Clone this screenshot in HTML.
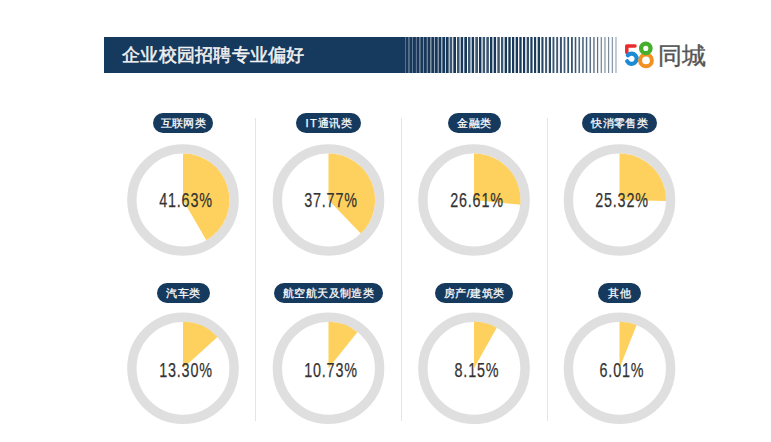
<!DOCTYPE html>
<html><head><meta charset="utf-8"><style>
html,body{margin:0;padding:0;background:#fff;width:771px;height:442px;overflow:hidden}
body{position:relative;font-family:"Liberation Sans",sans-serif}
svg{position:absolute;left:0;top:0}
.pill{position:absolute;background:#163a5e;color:#fff;font-size:11.1px;-webkit-text-stroke:0.25px #fff;height:19.5px;line-height:21px;text-align:center;border-radius:10px;white-space:nowrap;letter-spacing:0.4px;text-indent:0.4px}
.pct{position:absolute;transform:translate(-50%,-50%) scaleX(0.70);color:#333;font-size:20.5px;line-height:20px;letter-spacing:1.2px;-webkit-text-stroke:0.25px #333;white-space:nowrap}
.title{position:absolute;left:122px;top:44.5px;color:#f2f2f2;font-size:18.3px;line-height:20px;letter-spacing:0.25px;-webkit-text-stroke:0.5px #f2f2f2;white-space:nowrap}
.tc{position:absolute;left:657.5px;top:42.5px;color:#555;font-size:24px;line-height:26px;letter-spacing:0.8px;-webkit-text-stroke:0.4px #555;white-space:nowrap}
</style></head><body>
<svg width="771" height="442" viewBox="0 0 771 442">
<circle cx="183" cy="200" r="51.10" fill="none" stroke="#dfdfdf" stroke-width="9.40"/>
<path d="M183 200 L183 153.50 A46.5 46.5 0 0 1 206.34 240.22 Z" fill="#fed15e"/>
<circle cx="328.5" cy="200" r="51.10" fill="none" stroke="#dfdfdf" stroke-width="9.40"/>
<path d="M328.5 200 L328.5 153.50 A46.5 46.5 0 0 1 360.82 233.43 Z" fill="#fed15e"/>
<circle cx="474" cy="200" r="51.10" fill="none" stroke="#dfdfdf" stroke-width="9.40"/>
<path d="M474 200 L474 153.50 A46.5 46.5 0 0 1 520.26 204.70 Z" fill="#fed15e"/>
<circle cx="619.5" cy="200" r="51.10" fill="none" stroke="#dfdfdf" stroke-width="9.40"/>
<path d="M619.5 200 L619.5 153.50 A46.5 46.5 0 0 1 665.99 200.93 Z" fill="#fed15e"/>
<circle cx="183" cy="368.3" r="51.10" fill="none" stroke="#dfdfdf" stroke-width="9.40"/>
<path d="M183 368.3 L183 321.80 A46.5 46.5 0 0 1 217.49 337.11 Z" fill="#fed15e"/>
<circle cx="328.5" cy="368.3" r="51.10" fill="none" stroke="#dfdfdf" stroke-width="9.40"/>
<path d="M328.5 368.3 L328.5 321.80 A46.5 46.5 0 0 1 357.53 331.97 Z" fill="#fed15e"/>
<circle cx="474" cy="368.3" r="51.10" fill="none" stroke="#dfdfdf" stroke-width="9.40"/>
<path d="M474 368.3 L474 321.80 A46.5 46.5 0 0 1 496.78 327.76 Z" fill="#fed15e"/>
<circle cx="619.5" cy="368.3" r="51.10" fill="none" stroke="#dfdfdf" stroke-width="9.40"/>
<path d="M619.5 368.3 L619.5 321.80 A46.5 46.5 0 0 1 636.64 325.08 Z" fill="#fed15e"/>
<rect x="255.0" y="118" width="1" height="303" fill="#e4e4e4"/>
<rect x="401.0" y="118" width="1" height="303" fill="#e4e4e4"/>
<rect x="547.0" y="118" width="1" height="303" fill="#e4e4e4"/>
<rect x="104" y="37" width="301" height="36" fill="#163a5e"/>
<rect x="405.00" y="37" width="0.65" height="36" fill="rgb(55, 85, 115)"/>
<rect x="405.65" y="37" width="3.00" height="36" fill="rgb(23, 56, 90)"/>
<rect x="408.65" y="37" width="0.67" height="36" fill="rgb(58, 88, 117)"/>
<rect x="409.32" y="37" width="2.98" height="36" fill="rgb(23, 56, 90)"/>
<rect x="412.30" y="37" width="0.68" height="36" fill="rgb(65, 94, 122)"/>
<rect x="412.98" y="37" width="2.97" height="36" fill="rgb(23, 56, 90)"/>
<rect x="415.95" y="37" width="0.70" height="36" fill="rgb(74, 102, 129)"/>
<rect x="416.65" y="37" width="2.95" height="36" fill="rgb(23, 56, 90)"/>
<rect x="419.60" y="37" width="0.72" height="36" fill="rgb(85, 111, 136)"/>
<rect x="420.32" y="37" width="2.93" height="36" fill="rgb(23, 56, 90)"/>
<rect x="423.25" y="37" width="0.73" height="36" fill="rgb(98, 121, 145)"/>
<rect x="423.98" y="37" width="2.92" height="36" fill="rgb(23, 56, 90)"/>
<rect x="426.90" y="37" width="0.75" height="36" fill="rgb(111, 133, 155)"/>
<rect x="427.65" y="37" width="2.90" height="36" fill="rgb(23, 56, 90)"/>
<rect x="430.55" y="37" width="0.77" height="36" fill="rgb(126, 146, 165)"/>
<rect x="431.32" y="37" width="2.88" height="36" fill="rgb(23, 56, 90)"/>
<rect x="434.20" y="37" width="0.78" height="36" fill="rgb(142, 159, 176)"/>
<rect x="434.98" y="37" width="2.87" height="36" fill="rgb(23, 56, 90)"/>
<rect x="437.85" y="37" width="0.80" height="36" fill="rgb(158, 173, 188)"/>
<rect x="438.65" y="37" width="2.85" height="36" fill="rgb(23, 56, 90)"/>
<rect x="441.50" y="37" width="0.82" height="36" fill="rgb(176, 189, 201)"/>
<rect x="442.32" y="37" width="2.83" height="36" fill="rgb(23, 56, 90)"/>
<rect x="445.15" y="37" width="0.84" height="36" fill="rgb(195, 205, 214)"/>
<rect x="445.99" y="37" width="2.81" height="36" fill="rgb(23, 56, 90)"/>
<rect x="448.80" y="37" width="0.85" height="36" fill="rgb(214, 221, 228)"/>
<rect x="449.65" y="37" width="2.80" height="36" fill="rgb(60, 87, 114)"/>
<rect x="452.45" y="37" width="0.87" height="36" fill="rgb(235, 239, 242)"/>
<rect x="453.32" y="37" width="2.78" height="36" fill="rgb(23, 56, 90)"/>
<rect x="456.10" y="37" width="0.89" height="36" fill="rgb(250, 252, 253)"/>
<rect x="456.99" y="37" width="2.76" height="36" fill="rgb(60, 87, 114)"/>
<rect x="459.75" y="37" width="0.90" height="36" fill="rgb(250, 252, 253)"/>
<rect x="460.65" y="37" width="2.75" height="36" fill="rgb(23, 56, 90)"/>
<rect x="463.40" y="37" width="0.92" height="36" fill="rgb(250, 252, 253)"/>
<rect x="464.32" y="37" width="2.73" height="36" fill="rgb(23, 56, 90)"/>
<rect x="467.05" y="37" width="0.94" height="36" fill="rgb(250, 252, 253)"/>
<rect x="467.99" y="37" width="2.71" height="36" fill="rgb(60, 87, 114)"/>
<rect x="470.70" y="37" width="0.95" height="36" fill="rgb(250, 252, 253)"/>
<rect x="471.65" y="37" width="2.70" height="36" fill="rgb(23, 56, 90)"/>
<rect x="474.35" y="37" width="0.97" height="36" fill="rgb(250, 252, 253)"/>
<rect x="475.32" y="37" width="2.68" height="36" fill="rgb(60, 87, 114)"/>
<rect x="478.00" y="37" width="0.99" height="36" fill="rgb(250, 252, 253)"/>
<rect x="478.99" y="37" width="2.66" height="36" fill="rgb(23, 56, 90)"/>
<rect x="481.65" y="37" width="1.00" height="36" fill="rgb(250, 252, 253)"/>
<rect x="482.65" y="37" width="2.65" height="36" fill="rgb(60, 87, 114)"/>
<rect x="485.30" y="37" width="1.02" height="36" fill="rgb(250, 252, 253)"/>
<rect x="486.32" y="37" width="2.63" height="36" fill="rgb(60, 87, 114)"/>
<rect x="488.95" y="37" width="1.04" height="36" fill="rgb(250, 252, 253)"/>
<rect x="489.99" y="37" width="2.61" height="36" fill="rgb(23, 56, 90)"/>
<rect x="492.60" y="37" width="1.05" height="36" fill="rgb(250, 252, 253)"/>
<rect x="493.65" y="37" width="2.60" height="36" fill="rgb(23, 56, 90)"/>
<rect x="496.25" y="37" width="1.07" height="36" fill="rgb(250, 252, 253)"/>
<rect x="497.32" y="37" width="2.58" height="36" fill="rgb(60, 87, 114)"/>
<rect x="499.90" y="37" width="1.09" height="36" fill="rgb(250, 252, 253)"/>
<rect x="500.99" y="37" width="2.56" height="36" fill="rgb(60, 87, 114)"/>
<rect x="503.55" y="37" width="1.10" height="36" fill="rgb(250, 252, 253)"/>
<rect x="504.65" y="37" width="2.55" height="36" fill="rgb(23, 56, 90)"/>
<rect x="507.20" y="37" width="1.12" height="36" fill="rgb(250, 252, 253)"/>
<rect x="508.32" y="37" width="2.53" height="36" fill="rgb(23, 56, 90)"/>
<rect x="510.85" y="37" width="1.14" height="36" fill="rgb(250, 252, 253)"/>
<rect x="511.99" y="37" width="2.51" height="36" fill="rgb(23, 56, 90)"/>
<rect x="514.50" y="37" width="1.16" height="36" fill="rgb(250, 252, 253)"/>
<rect x="515.66" y="37" width="2.49" height="36" fill="rgb(23, 56, 90)"/>
<rect x="518.15" y="37" width="1.17" height="36" fill="rgb(250, 252, 253)"/>
<rect x="519.32" y="37" width="2.48" height="36" fill="rgb(23, 56, 90)"/>
<rect x="521.80" y="37" width="1.19" height="36" fill="rgb(250, 252, 253)"/>
<rect x="522.99" y="37" width="2.46" height="36" fill="rgb(23, 56, 90)"/>
<rect x="525.45" y="37" width="1.21" height="36" fill="rgb(250, 252, 253)"/>
<rect x="526.66" y="37" width="2.44" height="36" fill="rgb(50, 78, 107)"/>
<rect x="529.10" y="37" width="1.22" height="36" fill="rgb(250, 252, 253)"/>
<rect x="530.32" y="37" width="2.43" height="36" fill="rgb(30, 61, 94)"/>
<rect x="532.75" y="37" width="1.24" height="36" fill="rgb(250, 252, 253)"/>
<rect x="533.99" y="37" width="2.41" height="36" fill="rgb(27, 59, 92)"/>
<rect x="536.40" y="37" width="1.27" height="36" fill="rgb(250, 252, 253)"/>
<rect x="537.67" y="37" width="2.38" height="36" fill="rgb(28, 60, 93)"/>
<rect x="540.05" y="37" width="1.33" height="36" fill="rgb(250, 252, 253)"/>
<rect x="541.38" y="37" width="2.32" height="36" fill="rgb(39, 69, 100)"/>
<rect x="543.70" y="37" width="1.39" height="36" fill="rgb(250, 252, 253)"/>
<rect x="545.09" y="37" width="2.26" height="36" fill="rgb(63, 89, 115)"/>
<rect x="547.35" y="37" width="1.44" height="36" fill="rgb(250, 252, 253)"/>
<rect x="548.79" y="37" width="2.21" height="36" fill="rgb(40, 70, 100)"/>
<rect x="551.00" y="37" width="1.50" height="36" fill="rgb(250, 252, 253)"/>
<rect x="552.50" y="37" width="2.15" height="36" fill="rgb(59, 86, 113)"/>
<rect x="554.65" y="37" width="1.56" height="36" fill="rgb(250, 252, 253)"/>
<rect x="556.21" y="37" width="2.09" height="36" fill="rgb(64, 90, 116)"/>
<rect x="558.30" y="37" width="1.61" height="36" fill="rgb(250, 252, 253)"/>
<rect x="559.91" y="37" width="2.04" height="36" fill="rgb(56, 83, 111)"/>
<rect x="561.95" y="37" width="1.67" height="36" fill="rgb(250, 252, 253)"/>
<rect x="563.62" y="37" width="1.98" height="36" fill="rgb(66, 92, 118)"/>
<rect x="565.60" y="37" width="1.73" height="36" fill="rgb(250, 252, 253)"/>
<rect x="567.33" y="37" width="1.92" height="36" fill="rgb(49, 78, 107)"/>
<rect x="569.25" y="37" width="1.78" height="36" fill="rgb(250, 252, 253)"/>
<rect x="571.03" y="37" width="1.87" height="36" fill="rgb(52, 80, 108)"/>
<rect x="572.90" y="37" width="1.84" height="36" fill="rgb(250, 252, 253)"/>
<rect x="574.74" y="37" width="1.81" height="36" fill="rgb(61, 87, 114)"/>
<rect x="576.55" y="37" width="1.90" height="36" fill="rgb(250, 252, 253)"/>
<rect x="578.45" y="37" width="1.75" height="36" fill="rgb(83, 106, 128)"/>
<rect x="580.20" y="37" width="1.95" height="36" fill="rgb(250, 252, 253)"/>
<rect x="582.15" y="37" width="1.70" height="36" fill="rgb(76, 100, 124)"/>
<rect x="583.85" y="37" width="2.00" height="36" fill="rgb(250, 252, 253)"/>
<rect x="585.85" y="37" width="1.65" height="36" fill="rgb(74, 98, 123)"/>
<rect x="587.50" y="37" width="2.05" height="36" fill="rgb(250, 252, 253)"/>
<rect x="589.55" y="37" width="1.60" height="36" fill="rgb(93, 113, 134)"/>
<rect x="591.15" y="37" width="2.10" height="36" fill="rgb(250, 252, 253)"/>
<rect x="593.25" y="37" width="1.55" height="36" fill="rgb(94, 114, 135)"/>
<rect x="594.80" y="37" width="2.16" height="36" fill="rgb(250, 252, 253)"/>
<rect x="596.96" y="37" width="1.49" height="36" fill="rgb(94, 115, 135)"/>
<rect x="598.45" y="37" width="2.21" height="36" fill="rgb(250, 252, 253)"/>
<rect x="600.66" y="37" width="1.44" height="36" fill="rgb(128, 142, 157)"/>
<rect x="602.10" y="37" width="2.26" height="36" fill="rgb(250, 252, 253)"/>
<rect x="604.36" y="37" width="1.39" height="36" fill="rgb(131, 145, 159)"/>
<rect x="605.75" y="37" width="2.31" height="36" fill="rgb(250, 252, 253)"/>
<rect x="608.06" y="37" width="1.34" height="36" fill="rgb(116, 132, 149)"/>
<rect x="609.40" y="37" width="2.36" height="36" fill="rgb(250, 252, 253)"/>
<rect x="611.76" y="37" width="1.29" height="36" fill="rgb(141, 153, 165)"/>
<rect x="613.05" y="37" width="2.41" height="36" fill="rgb(250, 252, 253)"/>
<rect x="615.46" y="37" width="1.24" height="36" fill="rgb(146, 158, 169)"/>
<rect x="616.70" y="37" width="2.46" height="36" fill="rgb(250, 252, 253)"/>
<g fill="none" stroke-linecap="round">
<path d="M635 46.1 H626.8 V52.5" stroke="#ec2a2c" stroke-width="3.5" stroke-linejoin="round"/>
<path d="M627.81 55.29 A5.1 5.1 0 1 1 627.18 61.25" stroke="#1b8bd6" stroke-width="4.2"/>
<circle cx="646" cy="60.4" r="5.85" stroke="#f39020" stroke-width="4.0"/>
<circle cx="645.8" cy="48.4" r="4.7" stroke="#47ae2c" stroke-width="4.3"/>
</g>
</svg>
<div class="title">企业校园招聘专业偏好</div>
<div class="tc">同城</div>
<div class="pill" style="left:152.80px;top:113.00px;width:60.7px">互联网类</div>
<div class="pct" style="left:185.90px;top:200.30px">41.63%</div>
<div class="pill" style="left:296.20px;top:113.00px;width:64.9px"><span style="letter-spacing:1.2px">IT</span>通讯类</div>
<div class="pct" style="left:331.40px;top:200.30px">37.77%</div>
<div class="pill" style="left:447.50px;top:113.00px;width:53.1px">金融类</div>
<div class="pct" style="left:476.90px;top:200.30px">26.61%</div>
<div class="pill" style="left:582.30px;top:113.00px;width:74.3px">快消零售类</div>
<div class="pct" style="left:622.40px;top:200.30px">25.32%</div>
<div class="pill" style="left:156.60px;top:283.20px;width:53.3px">汽车类</div>
<div class="pct" style="left:185.90px;top:369.60px">13.30%</div>
<div class="pill" style="left:273.80px;top:283.20px;width:109.2px">航空航天及制造类</div>
<div class="pct" style="left:331.40px;top:369.60px">10.73%</div>
<div class="pill" style="left:435.10px;top:283.20px;width:77.8px">房产/建筑类</div>
<div class="pct" style="left:476.90px;top:369.60px">8.15%</div>
<div class="pill" style="left:597.80px;top:283.20px;width:43.4px">其他</div>
<div class="pct" style="left:622.40px;top:369.60px">6.01%</div>
</body></html>
